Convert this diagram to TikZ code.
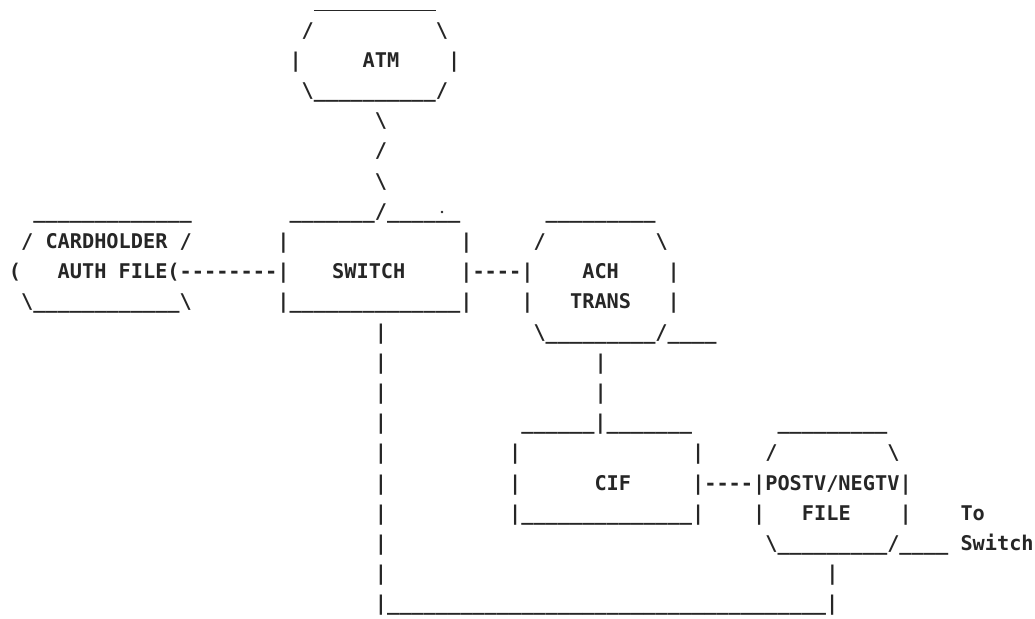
\documentclass[tikz,border=0pt]{standalone}
\usepackage{fontspec}
\setmonofont{DejaVu Sans Mono}
\ExplSyntaxOn
\cs_new:Npn \repchars #1#2 { \prg_replicate:nn {#1} {#2} }
\ExplSyntaxOff
\newcommand{\bs}{\textbackslash}
\newcommand{\asc}[4]{\node[asc] (#1) at ({15+12.2*(#2-0.5)},{30.19*#3+7.0}) {#4};}
\begin{document}
\begin{tikzpicture}[x=1pt,y=-1pt,
  asc/.style={anchor=base west, inner sep=0pt, outer sep=0pt,
    font=\ttfamily\bfseries\fontsize{20.26}{24}\selectfont, text=black!85},
  rule/.style={draw=black!85, line width=1.7pt}]
\useasboundingbox[fill=white] (0,0) rectangle (1035,618);
% ATM
\coordinate (atmTa) at ({15+12.2*24.5},{10.5});
\coordinate (atmTb) at ({15+12.2*34.5},{10.5});
\draw[rule] (atmTa) -- (atmTb);
\asc{atmTL}{24}{1}{/}
\asc{atmTR}{35}{1}{\bs}
\asc{atmL}{23}{2}{|}
\asc{atm}{29}{2}{ATM}
\asc{atmR}{36}{2}{|}
\asc{atmB}{24}{3}{\bs\repchars{10}{\_}/}
\asc{l4}{30}{4}{\bs}
\asc{l5}{30}{5}{/}
\asc{l6}{30}{6}{\bs}
% row 7
\asc{chT}{2}{7}{\repchars{13}{\_}}
\asc{swT}{23}{7}{\repchars{7}{\_}/\repchars{6}{\_}}
\asc{achT}{44}{7}{\repchars{9}{\_}}
\node[circle, fill=black!85, inner sep=0pt, minimum size=2.6pt] (dot) at (442,212) {};
% row 8
\asc{chTL}{1}{8}{/}
\asc{cardholder}{3}{8}{CARDHOLDER}
\asc{chTR}{14}{8}{/}
\asc{swL8}{22}{8}{|}
\asc{swR8}{37}{8}{|}
\asc{achTL}{43}{8}{/}
\asc{achTR}{53}{8}{\bs}
% row 9
\asc{chL}{0}{9}{(}
\asc{authfile}{4}{9}{AUTH FILE(}
\asc{lnkCS}{14}{9}{\repchars{8}{-}}
\asc{swL9}{22}{9}{|}
\asc{switch}{26.5}{9}{SWITCH}
\asc{lnkSA}{37}{9}{|----|}
\asc{ach}{47}{9}{ACH}
\asc{achR9}{54}{9}{|}
% row 10
\asc{chB}{1}{10}{\bs\repchars{12}{\_}\bs}
\asc{swB}{22}{10}{|\repchars{14}{\_}|}
\asc{achL10}{42}{10}{|}
\asc{trans}{46}{10}{TRANS}
\asc{achR10}{54}{10}{|}
% row 11
\asc{sw11}{30}{11}{|}
\asc{achB}{43}{11}{\bs\repchars{9}{\_}/\repchars{4}{\_}}
% rows 12-13
\asc{sw12}{30}{12}{|}
\asc{ac12}{48}{12}{|}
\asc{sw13}{30}{13}{|}
\asc{ac13}{48}{13}{|}
% row 14
\asc{sw14}{30}{14}{|}
\asc{cifT}{42}{14}{\repchars{6}{\_}|\repchars{7}{\_}}
\asc{pnT}{63}{14}{\repchars{9}{\_}}
% row 15
\asc{sw15}{30}{15}{|}
\asc{cifL15}{41}{15}{|}
\asc{cifR15}{56}{15}{|}
\asc{pnTL}{62}{15}{/}
\asc{pnTR}{72}{15}{\bs}
% row 16
\asc{sw16}{30}{16}{|}
\asc{cifL16}{41}{16}{|}
\asc{cif}{48}{16}{CIF}
\asc{lnkCP}{56}{16}{|----|}
\asc{postv}{62}{16}{POSTV/NEGTV}
\asc{pnR16}{73}{16}{|}
% row 17
\asc{sw17}{30}{17}{|}
\asc{cifB}{41}{17}{|\repchars{14}{\_}|}
\asc{pnL17}{61}{17}{|}
\asc{file}{65}{17}{FILE}
\asc{pnR17}{73}{17}{|}
\asc{to}{78}{17}{To}
% row 18
\asc{sw18}{30}{18}{|}
\asc{pnB}{62}{18}{\bs\repchars{9}{\_}/\repchars{4}{\_}}
\asc{toswitch}{78}{18}{Switch}
% row 19
\asc{sw19}{30}{19}{|}
\asc{pn19}{67}{19}{|}
% row 20
\asc{loop}{30}{20}{|\repchars{36}{\_}|}
\end{tikzpicture}
\end{document}
